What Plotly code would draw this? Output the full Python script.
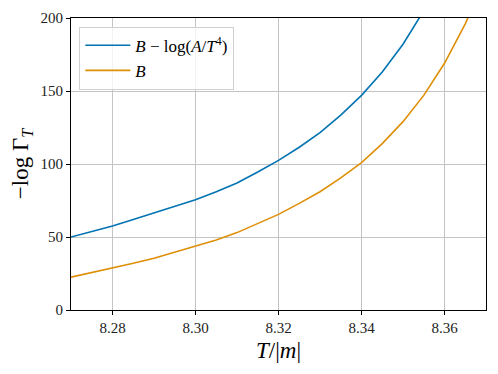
import plotly.graph_objects as go

T = [8.270, 8.275, 8.280, 8.285, 8.290, 8.295, 8.300, 8.305, 8.310, 8.315,
     8.320, 8.325, 8.330, 8.335, 8.340, 8.345, 8.350, 8.355, 8.360, 8.365, 8.370]
blue_vals = [50, 53.5, 57.5, 62, 66.5, 71, 75.5, 81, 87, 94.5,
             102.5, 111.5, 121.5, 133.5, 147, 163, 182, 205, None, None, None]
orange_vals = [22.5, 25.5, 28.5, 32, 35.5, 39.5, 43.5, 48, 53, 59,
               65.5, 73, 81, 90.5, 101, 114, 129, 147, 169, 196, 228]
x_ticks = [8.28, 8.30, 8.32, 8.34, 8.36]
x_ticktext = ["8.28", "8.30", "8.32", "8.34", "8.36"]
y_ticks = [0, 50, 100, 150, 200]

FONT = "'Liberation Serif', 'DejaVu Serif', serif"

fig = go.Figure()
fig.add_trace(go.Scatter(x=T, y=blue_vals, mode="lines",
                         line=dict(color="#0173b2", width=1.6),
                         name="<i>B</i> − log(<i>A</i>/<i>T</i><sup>4</sup>)"))
fig.add_trace(go.Scatter(x=T, y=orange_vals, mode="lines",
                         line=dict(color="#de8f05", width=1.6),
                         name="<i>B</i>"))

axis_common = dict(showline=True, linecolor="black", linewidth=1.2, mirror=True,
                   ticks="outside", ticklen=4, tickcolor="black", automargin=False,
                   showgrid=True, gridcolor="#c4c4c4", gridwidth=1,
                   zeroline=False, tickfont=dict(family=FONT, size=15, color="#222"))

fig.update_layout(
    width=498, height=374,
    margin=dict(l=63, r=20, t=10, b=72),
    paper_bgcolor="white", plot_bgcolor="white",
    font=dict(family=FONT, color="black"),
    showlegend=True,
    legend=dict(x=0.02, y=0.97, xanchor="left", yanchor="top",
                bgcolor="rgba(255,255,255,0.8)", bordercolor="#d0d0d0", borderwidth=1,
                font=dict(family=FONT, size=17), tracegroupgap=2, itemwidth=45),
    xaxis=dict(range=[8.27, 8.37], tickvals=x_ticks, ticktext=x_ticktext,
               title=dict(text="<i>T</i>/|<i>m</i>|", font=dict(family=FONT, size=23), standoff=6),
               **axis_common),
    yaxis=dict(range=[0, 200], tickvals=y_ticks,
               title=dict(text="−log Γ<sub><i>T</i></sub>", font=dict(family=FONT, size=23), standoff=8),
               **axis_common),
)

fig.write_html("out.html")
